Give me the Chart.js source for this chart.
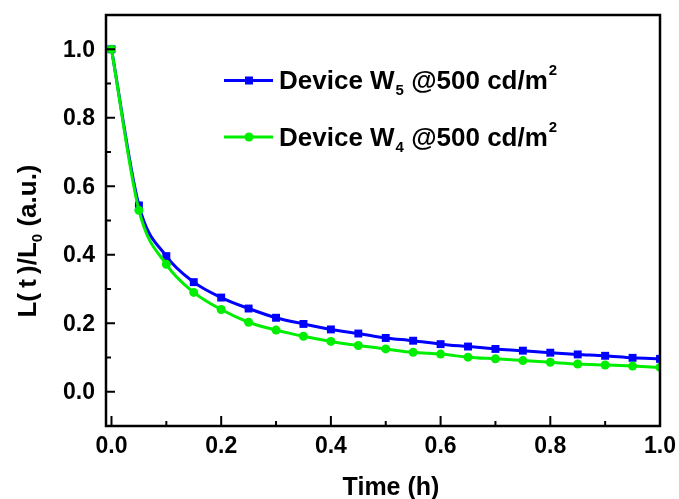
<!DOCTYPE html>
<html>
<head>
<meta charset="utf-8">
<script src="https://cdn.jsdelivr.net/npm/chart.js@4.4.0/dist/chart.umd.min.js"></script>
<style>
  html, body { margin: 0; padding: 0; background: #fff; }
  #wrap { width: 679px; height: 499px; position: relative; }
</style>
</head>
<body>
<div id="wrap"><canvas id="c" width="679" height="499"></canvas></div>
<script>
// ---- data ----
const timeValues = [0, 0.05, 0.1, 0.15, 0.2, 0.25, 0.3, 0.35, 0.4, 0.45, 0.5, 0.55, 0.6, 0.65, 0.7, 0.75, 0.8, 0.85, 0.9, 0.95, 1.0];
const w5Values = [1.0, 0.544, 0.396, 0.320, 0.275, 0.243, 0.216, 0.198, 0.182, 0.170, 0.157, 0.149, 0.139, 0.132, 0.125, 0.120, 0.114, 0.109, 0.105, 0.099, 0.096];
const w4Values = [1.0, 0.530, 0.372, 0.290, 0.240, 0.203, 0.180, 0.162, 0.147, 0.135, 0.125, 0.115, 0.110, 0.101, 0.096, 0.091, 0.086, 0.081, 0.078, 0.075, 0.071];
const xTickValues = [0, 0.2, 0.4, 0.6, 0.8, 1.0];
const xTickLabels = ['0.0', '0.2', '0.4', '0.6', '0.8', '1.0'];
const xMinorValues = [0.1, 0.3, 0.5, 0.7, 0.9];
const yTickValues = [0, 0.2, 0.4, 0.6, 0.8, 1.0];
const yTickLabels = ['0.0', '0.2', '0.4', '0.6', '0.8', '1.0'];
const yMinorValues = [-0.1, 0.1, 0.3, 0.5, 0.7, 0.9];
const seriesNames = ['Device W', 'Device W'];
const seriesSubs = ['5', '4'];
const legendTail = ' @500 cd/m';
const legendSup = '2';
const xTitle = 'Time (h)';

const FONT = "'Liberation Sans', Arial, sans-serif";
const BLUE = '#0000ff';
const GREEN = '#00ee00';

const decor = {
  id: 'decor',
  afterDraw(chart) {
    const ctx = chart.ctx;
    const a = chart.chartArea;
    const xs = chart.scales.x, ys = chart.scales.y;
    ctx.save();
    // frame
    ctx.strokeStyle = '#000';
    ctx.lineWidth = 2.5;
    ctx.strokeRect(a.left, a.top, a.right - a.left, a.bottom - a.top);
    // inward ticks
    ctx.lineWidth = 2;
    ctx.beginPath();
    xTickValues.forEach(v => { const px = xs.getPixelForValue(v); ctx.moveTo(px, a.bottom); ctx.lineTo(px, a.bottom - 10); });
    xMinorValues.forEach(v => { const px = xs.getPixelForValue(v); ctx.moveTo(px, a.bottom); ctx.lineTo(px, a.bottom - 5); });
    yTickValues.forEach(v => { const py = ys.getPixelForValue(v); ctx.moveTo(a.left, py); ctx.lineTo(a.left + 9, py); });
    yMinorValues.forEach(v => { const py = ys.getPixelForValue(v); ctx.moveTo(a.left, py); ctx.lineTo(a.left + 5, py); });
    ctx.stroke();

    // tick labels
    ctx.fillStyle = '#000';
    ctx.font = 'bold 23px ' + FONT;
    ctx.textBaseline = 'middle';
    ctx.textAlign = 'center';
    xTickValues.forEach((v, i) => ctx.fillText(xTickLabels[i], xs.getPixelForValue(v), a.bottom + 21));
    ctx.textAlign = 'right';
    yTickValues.forEach((v, i) => ctx.fillText(yTickLabels[i], a.left - 11, ys.getPixelForValue(v) + 1));

    // legend
    const colors = [BLUE, GREEN];
    const shapes = ['rect', 'circle'];
    const rows = [80.5, 137];
    ctx.textBaseline = 'alphabetic';
    ctx.textAlign = 'left';
    for (let i = 0; i < 2; i++) {
      const y = rows[i];
      ctx.strokeStyle = colors[i];
      ctx.lineWidth = 3;
      ctx.beginPath(); ctx.moveTo(224, y); ctx.lineTo(273, y); ctx.stroke();
      ctx.fillStyle = colors[i];
      if (shapes[i] === 'rect') { ctx.fillRect(245, y - 4, 8, 8); }
      else { ctx.beginPath(); ctx.arc(249, y, 4.5, 0, Math.PI * 2); ctx.fill(); }
      ctx.fillStyle = '#000';
      let x = 279;
      const base = y + 4.5 + 4;
      ctx.font = 'bold 26px ' + FONT;
      ctx.fillText(seriesNames[i], x, base);
      x += ctx.measureText(seriesNames[i]).width + 1;
      ctx.font = 'bold 15px ' + FONT;
      ctx.fillText(seriesSubs[i], x, base + 6);
      x += ctx.measureText(seriesSubs[i]).width;
      ctx.font = 'bold 26px ' + FONT;
      ctx.fillText(legendTail, x, base);
      x += ctx.measureText(legendTail).width + 1;
      ctx.font = 'bold 15px ' + FONT;
      ctx.fillText(legendSup, x, base - 14);
    }

    // x title
    ctx.font = 'bold 25px ' + FONT;
    ctx.textAlign = 'center';
    ctx.fillText(xTitle, 391, 495);

    // y title with subscript, rotated
    ctx.translate(36, 241);
    ctx.rotate(-Math.PI / 2);
    const parts = [['L(\u2009t\u2009)/L', 26, 0], ['0', 15, 6], [' (a.u.)', 26, 0]];
    let total = 0;
    parts.forEach(p => { ctx.font = 'bold ' + p[1] + 'px ' + FONT; total += ctx.measureText(p[0]).width; });
    let x0 = -total / 2;
    ctx.textAlign = 'left';
    parts.forEach(p => {
      ctx.font = 'bold ' + p[1] + 'px ' + FONT;
      ctx.fillText(p[0], x0, p[2]);
      x0 += ctx.measureText(p[0]).width;
    });
    ctx.restore();
  }
};

new Chart(document.getElementById('c'), {
  type: 'line',
  data: {
    datasets: [
      {
        label: 'Device W5 @500 cd/m2',
        data: timeValues.map((t, i) => ({ x: t, y: w5Values[i] })),
        borderColor: BLUE, backgroundColor: BLUE,
        borderWidth: 3, pointStyle: 'rect', pointRadius: 5.6, pointBorderWidth: 0,
        cubicInterpolationMode: 'monotone', order: 1
      },
      {
        label: 'Device W4 @500 cd/m2',
        data: timeValues.map((t, i) => ({ x: t, y: w4Values[i] })),
        borderColor: GREEN, backgroundColor: GREEN,
        borderWidth: 3, pointStyle: 'circle', pointRadius: 4.5, pointBorderWidth: 0,
        cubicInterpolationMode: 'monotone', order: 0
      }
    ]
  },
  options: {
    responsive: false,
    animation: false,
    layout: { padding: { top: 15, right: 19, left: 0, bottom: 0 } },
    plugins: { legend: { display: false }, tooltip: { enabled: false } },
    scales: {
      x: {
        type: 'linear', min: -0.01, max: 1.0,
        grid: { display: false, drawTicks: false },
        border: { display: false },
        ticks: { display: false },
        afterFit: s => { s.height = 73; }
      },
      y: {
        type: 'linear', min: -0.1, max: 1.1,
        grid: { display: false, drawTicks: false },
        border: { display: false },
        ticks: { display: false },
        afterFit: s => { s.width = 106; }
      }
    }
  },
  plugins: [decor]
});
</script>
</body>
</html>
